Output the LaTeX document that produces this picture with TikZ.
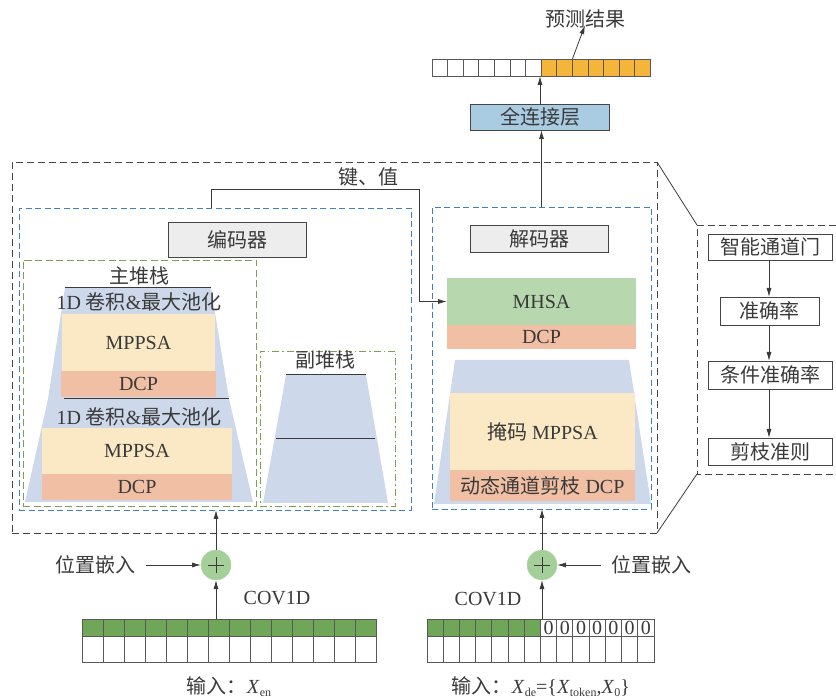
\documentclass[tikz,border=0pt]{standalone}
\usepackage{fontspec}
\setmainfont{Liberation Serif}
\newfontfamily\cjk{Noto Sans CJK SC}
\usetikzlibrary{arrows.meta}
\definecolor{stackblue}{HTML}{CDD8EA}
\definecolor{mppsa}{HTML}{FAE9C4}
\definecolor{dcp}{HTML}{F1BFA3}
\definecolor{mhsa}{HTML}{B7D7AF}
\definecolor{cellgreen}{HTML}{6FA657}
\definecolor{plusgreen}{HTML}{A5CF98}
\definecolor{fcblue}{HTML}{AACCE3}
\definecolor{outorange}{HTML}{F4B53A}
\definecolor{labelgray}{HTML}{EDEDED}
\definecolor{ink}{HTML}{3A3A3A}
\definecolor{edge}{HTML}{454545}
\definecolor{dashblue}{HTML}{3F80BF}
\definecolor{dashgreen}{HTML}{7E9F55}
\newcommand\subtxt[1]{\raisebox{-0.35ex}{\fontsize{12}{12}\selectfont #1}}

\begin{document}
\begin{tikzpicture}[x=1pt,y=-1pt,
  font=\fontsize{20}{22}\selectfont, text=ink,
  every node/.style={inner sep=0pt, outer sep=0pt},
  arr/.style={-{Latex[length=9pt,width=5pt]}, line width=0.8pt, draw=ink},
  plainline/.style={line width=0.8pt, draw=ink},
  frame/.style={draw, minimum width=#1},
  lblbox/.style={draw=edge, line width=0.9pt, fill=labelgray},
  stepbox/.style={draw=edge, line width=0.9pt, fill=white},
  cell/.style={draw=edge!90, line width=0.8pt},
  outerdash/.style={draw=edge, line width=0.9pt, dash pattern=on 7pt off 4pt},
  bluedash/.style={draw=dashblue, line width=0.8pt, dash pattern=on 6pt off 3.5pt},
  greendash/.style={draw=dashgreen, line width=0.8pt, dash pattern=on 7pt off 3.5pt},
  greendashdot/.style={draw=dashgreen, line width=0.8pt, dash pattern=on 7pt off 3pt on 1.5pt off 3pt},
  plus/.style={circle, fill=plusgreen, draw=plusgreen!80, minimum size=30pt},
  block/.style={minimum width=#1}]
\useasboundingbox (0,0) rectangle (836,700);

% ---------------- frames ----------------
\node[outerdash, minimum width=645, minimum height=371] (outer) at (334.5,347.5) {};
\node[bluedash, minimum width=392, minimum height=302] (encbox) at (215,359) {};
\node[bluedash, minimum width=219, minimum height=302] (decbox) at (541.5,358) {};
\node[greendash, minimum width=233, minimum height=246] (mainstk) at (139.5,383) {};
\node[greendashdot, minimum width=135, minimum height=155] (substk) at (327.5,428.5) {};

% ---------------- encoder ----------------
\node[lblbox, minimum width=138, minimum height=35] (enclbl) at (237,239.5) {\cjk 编码器};
\node (mainlbl) at (139,276) {\cjk 主堆栈};

% main stack body
\fill[stackblue] (65,288) -- (211,288) -- (229,399) -- (253,502) -- (25,502) -- (48,399) -- cycle;
\draw[plainline, line width=1pt] (65,288) -- (211,288);
\draw[plainline, line width=1pt] (64,399) -- (229,399);

\node (conv1) at (139,302) {1D {\cjk 卷积}\&{\cjk 最大池化}};
\node[fill=mppsa, minimum width=153, minimum height=57] (mp1) at (138.5,342.5) {MPPSA};
\node[fill=dcp, minimum width=155, minimum height=26] (dcp1) at (138.5,384) {DCP};

\node (conv2) at (139,417) {1D {\cjk 卷积}\&{\cjk 最大池化}};
\node[fill=mppsa, minimum width=190, minimum height=46] (mp2) at (137,451) {MPPSA};
\node[fill=dcp, minimum width=190, minimum height=26] (dcp2) at (137,487) {DCP};

% sub stack body
\node (sublbl) at (325.5,360) {\cjk 副堆栈};
\fill[stackblue] (286,375) -- (366,375) -- (388,503) -- (263,503) -- cycle;
\draw[plainline, line width=1pt] (286,375) -- (366,375);
\draw[plainline, line width=1pt] (276,439) -- (375,439);

% ---------------- decoder ----------------
\node[lblbox, minimum width=138, minimum height=27] (declbl) at (539,238.5) {\cjk 解码器};
\node[fill=mhsa, minimum width=189, minimum height=47] (mhsa) at (541.5,301.5) {MHSA};
\node[fill=dcp, minimum width=189, minimum height=24] (dcp3) at (541.5,337) {DCP};

\fill[stackblue] (455,360) -- (629,360) -- (651,504) -- (434,504) -- cycle;
\node[fill=mppsa, minimum width=185, minimum height=77] (mp3) at (542.5,431.5) {{\cjk 掩码} MPPSA};
\node[fill=dcp, minimum width=185, minimum height=31] (dcp4) at (542.5,485.5) {{\cjk 动态通道剪枝} DCP};

% key / value path from encoder to decoder
\node (kv) at (368,177) {\cjk 键、值};
\draw[arr] ([xshift=-4pt]encbox.north) |- (419,189) |- (mhsa.west);

% ---------------- output side ----------------
\node[draw=edge, line width=0.9pt, fill=fcblue, minimum width=139, minimum height=26] (fc) at (540,117) {\cjk 全连接层};
\foreach \i in {1,...,14} {
  \ifnum\i<8
    \node[cell, fill=white, minimum width=15.6, minimum height=17] (out\i) at ({432+15.6*(\i-0.5)},67.5) {};
  \else
    \node[cell, fill=outorange, minimum width=15.6, minimum height=17] (out\i) at ({432+15.6*(\i-0.5)},67.5) {};
  \fi
}
\node (pred) at (585,19) {\cjk 预测结果};
\draw[arr] (decbox.north) -- (decbox.north |- fc.south);
\draw[arr] (fc.north) -- (fc.north |- out7.south);
\draw[arr] (out9.north east) -- ([yshift=3pt]pred.south);

% ---------------- pruning detail panel ----------------
\coordinate (ptl) at (697,225);
\coordinate (pbl) at (697,474);
\draw[outerdash] (836,225) -- (ptl) -- (pbl) -- (836,474);
\draw[plainline] (outer.north east) -- (ptl);
\draw[plainline] (outer.south east) -- (pbl);

\node[stepbox, minimum width=124, minimum height=26] (g1) at (770,247) {\cjk 智能通道门};
\node[stepbox, minimum width=99, minimum height=28] (g2) at (769.5,311) {\cjk 准确率};
\node[stepbox, minimum width=124, minimum height=28] (g3) at (770,375) {\cjk 条件准确率};
\node[stepbox, minimum width=124, minimum height=27] (g4) at (770,451.5) {\cjk 剪枝准则};
\draw[arr] (g1.south -| 769,0) -- (g2.north -| 769,0);
\draw[arr] (g2.south -| 769,0) -- (g3.north -| 769,0);
\draw[arr] (g3.south -| 769,0) -- (g4.north -| 769,0);

% ---------------- encoder input ----------------
\foreach \i in {1,...,14} {
  \node[cell, fill=cellgreen, minimum width=21, minimum height=17] (ea\i) at ({82+21*(\i-0.5)},627.5) {};
  \node[cell, fill=white, minimum width=21, minimum height=26] (eb\i) at ({82+21*(\i-0.5)},649) {};
}
\node[plus] (encplus) at (216,565) {};
\draw[plainline] ([xshift=-8pt]encplus.center) -- ([xshift=8pt]encplus.center);
\draw[plainline] ([yshift=-8pt]encplus.center) -- ([yshift=8pt]encplus.center);
\node (posl) at (96,565) {\cjk 位置嵌入};
\node (covl) at (277,598) {COV1D};
\node (inl) at (229,687) {{\cjk 输入：}\textit{X}\subtxt{en}};
\draw[arr] (encplus.south |- ea7.north) -- (encplus.south);
\draw[arr] ([xshift=10pt]posl.east) -- (encplus.west);
\draw[arr] (encplus.north) -- (encplus.north |- encbox.south);

% ---------------- decoder input ----------------
\foreach \i in {1,...,14} {
  \ifnum\i<8
    \node[cell, fill=cellgreen, minimum width=16.21, minimum height=17] (da\i) at ({427+16.21*(\i-0.5)},627.5) {};
  \else
    \node[cell, fill=white, minimum width=16.21, minimum height=17] (da\i) at ({427+16.21*(\i-0.5)},627.5) {0};
  \fi
  \node[cell, fill=white, minimum width=16.21, minimum height=26] (db\i) at ({427+16.21*(\i-0.5)},649) {};
}
\node[plus] (decplus) at (542,565) {};
\draw[plainline] ([xshift=-8pt]decplus.center) -- ([xshift=8pt]decplus.center);
\draw[plainline] ([yshift=-8pt]decplus.center) -- ([yshift=8pt]decplus.center);
\node (posr) at (651,565) {\cjk 位置嵌入};
\node (covr) at (488,599) {COV1D};
\node (inr) at (541,687) {{\cjk 输入：}\textit{X}\subtxt{de}=\{\textit{X}\subtxt{token},\textit{X}\subtxt{0}\}};
\draw[arr] (decplus.south |- da8.north) -- (decplus.south);
\draw[arr] ([xshift=-10pt]posr.west) -- (decplus.east);
\draw[arr] (decplus.north) -- (decplus.north |- decbox.south);
\end{tikzpicture}
\end{document}
